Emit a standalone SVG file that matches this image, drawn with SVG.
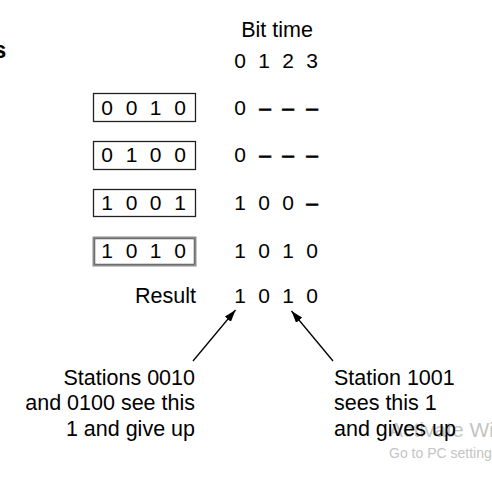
<svg xmlns="http://www.w3.org/2000/svg" width="492" height="490" viewBox="0 0 492 490">
<defs>
<style>
text{font-family:"Liberation Sans",Arial,sans-serif;font-size:21px;fill:#000}
.c{text-anchor:middle}
.r{text-anchor:end}
.n{font-size:21.5px}
.box{fill:none;stroke:#222;stroke-width:1.3}
.wm{fill:#c4c4c4}
.d{stroke:#000;stroke-width:0.7}
</style>
<marker id="ah" viewBox="0 0 12 8" refX="12" refY="4" markerWidth="12" markerHeight="8" markerUnits="userSpaceOnUse" orient="auto">
<path d="M0,0 L12,4 L0,8 z" fill="#000"/>
</marker>
</defs>
<rect width="492" height="490" fill="#fff"/>
<text x="-7" y="58" style="font-weight:bold;font-size:24px">s</text>
<text class="wm" x="389" y="437" style="font-size:21px">Activate Windows</text>
<text class="wm" x="389" y="458" style="font-size:14px">Go to PC settings</text>
<g id="header">
<text class="c n" x="277" y="37">Bit time</text>
<text class="c" x="240 252 264 276 288 300 312" y="68">0 1 2 3</text>
</g>
<g id="station-0010">
<rect class="box" x="93.5" y="93.5" width="102" height="28"/>
<text class="c" x="107 119.5 131.5 143.5 155.5 167.5 180" y="115">0 0 1 0</text>
<text class="c" x="240 252 265 276 288 300 312" y="115">0 <tspan class="d">–</tspan> <tspan class="d">–</tspan> <tspan class="d">–</tspan></text>
</g>
<g id="station-0100">
<rect class="box" x="93.5" y="141.5" width="102" height="28"/>
<text class="c" x="107 119.5 131.5 143.5 155.5 167.5 180" y="162">0 1 0 0</text>
<text class="c" x="240 252 265 276 288 300 312" y="162">0 <tspan class="d">–</tspan> <tspan class="d">–</tspan> <tspan class="d">–</tspan></text>
</g>
<g id="station-1001">
<rect class="box" x="93.5" y="189.5" width="102" height="27"/>
<text class="c" x="107 119.5 131.5 143.5 155.5 167.5 180" y="210">1 0 0 1</text>
<text class="c" x="240 252 264 276 288 300 312" y="210">1 0 0 <tspan class="d">–</tspan></text>
</g>
<g id="station-1010">
<rect x="93.5" y="237.5" width="102" height="28" fill="none" stroke="#8c8c8c" stroke-width="2"/>
<rect x="94.8" y="238.8" width="99.4" height="25.4" fill="none" stroke="#333" stroke-width="0.8"/>
<text class="c" x="107 119.5 131.5 143.5 155.5 167.5 180" y="258">1 0 1 0</text>
<text class="c" x="240 252 264 276 288 300 312" y="258">1 0 1 0</text>
</g>
<g id="result">
<text class="r n" x="196" y="303">Result</text>
<text class="c" x="240 252 264 276 288 300 312" y="303">1 0 1 0</text>
</g>
<g id="connectors">
<line x1="193" y1="361" x2="235.5" y2="310" stroke="#000" stroke-width="1.3" marker-end="url(#ah)"/>
<line x1="333" y1="361" x2="291.5" y2="311" stroke="#000" stroke-width="1.3" marker-end="url(#ah)"/>
</g>
<g id="note-left">
<text class="r n" x="195" y="385">Stations 0010</text>
<text class="r n" x="195" y="410">and 0100 see this</text>
<text class="r n" x="195" y="436">1 and give up</text>
</g>
<g id="note-right">
<text class="n" x="334" y="385">Station 1001</text>
<text class="n" x="334" y="410">sees this 1</text>
<text class="n" x="334" y="436">and gives up</text>
</g>
</svg>
